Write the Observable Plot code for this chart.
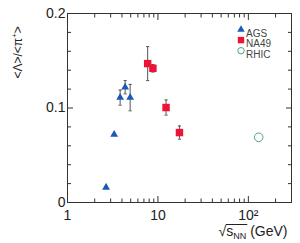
<!DOCTYPE html>
<html><head><meta charset="utf-8">
<script src="https://cdn.jsdelivr.net/npm/d3@7"></script>
<script src="https://cdn.jsdelivr.net/npm/@observablehq/plot@0.6"></script>
<style>body{margin:0;background:#fff} svg{display:block}</style>
</head><body><div id="chart"></div>
<script>
// ---- data ----
const agsX = [2.67, 3.28, 3.82, 4.34, 4.93];
const agsY = [0.016, 0.072, 0.111, 0.122, 0.111];
const agsErr = [0, 0, 0.008, 0.007, 0.014];
const na49X = [7.7, 8.8, 12.3, 17.3];
const na49Y = [0.147, 0.142, 0.1005, 0.074];
const na49Err = [0.018, 0.004, 0.008, 0.007];
const rhicX = [130];
const rhicY = [0.069];
const seriesNames = ["AGS", "NA49", "RHIC"];
const yMajorTicks = [0, 0.1, 0.2];
const yMinorTicks = [0.02, 0.04, 0.06, 0.08, 0.12, 0.14, 0.16, 0.18];
const yTickLabels = ["0", "0.1", "0.2"];
const xMajorTicks = [1, 10, 100];
const xMinorTicks = [2, 3, 4, 5, 6, 7, 8, 9, 20, 30, 40, 50, 60, 70, 80, 90, 200];
const xTickLabels = ["1", "10", "10²"];
const xTitle = "√sNN (GeV)";
const yTitle = "<Λ>/<π+>";

// ---- build tables ----
const ags = agsX.map((x, i) => ({x, y: agsY[i], err: agsErr[i]}));
const na49 = na49X.map((x, i) => ({x, y: na49Y[i], err: na49Err[i]}));
const rhic = rhicX.map((x, i) => ({x, y: rhicY[i]}));
const errs = [...ags, ...na49].filter(d => d.err > 0);
const caps = errs.flatMap(d => [{x: d.x, y: d.y - d.err}, {x: d.x, y: d.y + d.err}]);

const colors = {AGS: "#1a5ab5", NA49: "#ee1237", RHIC: "#4fa57c"};
const ink = "#333";
const capSymbol = {draw(ctx) { ctx.moveTo(-1.6, 0); ctx.lineTo(1.6, 0); }};

const legendMarks = seriesNames.flatMap((name, i) => {
  const dy = 16 + i * 10.6;
  const sym = i === 0 ? {symbol: "triangle", r: 2.8, fill: colors[name]}
            : i === 1 ? {symbol: "square", r: 3.6, fill: colors[name]}
            : {r: 3.2, fill: "none", stroke: colors[name], strokeWidth: 1};
  return [
    Plot.dot([name], {x: null, y: null, frameAnchor: "top-right", dx: -50.5, dy, ...sym}),
    Plot.text([name], {x: null, y: null, text: d => d, frameAnchor: "top-right", dx: -45.5, dy, textAnchor: "start", fontSize: 10, fill: "#444"})
  ];
});

const chart = Plot.plot({
  width: 300,
  height: 243,
  marginLeft: 67,
  marginRight: 9,
  marginTop: 13,
  marginBottom: 41,
  style: {fontFamily: "'Liberation Sans', Arial, sans-serif", background: "#fff", color: ink},
  x: {type: "log", domain: [1, 300]},
  y: {domain: [0, 0.2]},
  marks: [
    // inward ticks, all four sides
    Plot.axisY({ticks: yMajorTicks, anchor: "left", tickSize: -6, fill: "none", label: null}),
    Plot.axisY({ticks: yMinorTicks, anchor: "left", tickSize: -4, fill: "none", label: null}),
    Plot.axisY({ticks: yMajorTicks, anchor: "right", tickSize: -6, fill: "none", label: null}),
    Plot.axisY({ticks: yMinorTicks, anchor: "right", tickSize: -4, fill: "none", label: null}),
    Plot.axisX({ticks: xMajorTicks, anchor: "bottom", tickSize: -6, fill: "none", label: null}),
    Plot.axisX({ticks: xMinorTicks, anchor: "bottom", tickSize: -3.5, fill: "none", label: null}),
    Plot.axisX({ticks: xMajorTicks, anchor: "top", tickSize: -6, fill: "none", label: null}),
    Plot.axisX({ticks: xMinorTicks, anchor: "top", tickSize: -3.5, fill: "none", label: null}),
    // tick labels
    Plot.axisY({ticks: yMajorTicks, anchor: "left", tickSize: 0, tickPadding: 2, fontSize: 14,
      tickFormat: d => yTickLabels[yMajorTicks.indexOf(d)], label: null, fill: "#222"}),
    Plot.axisX({ticks: xMajorTicks, anchor: "bottom", tickSize: 0, tickPadding: 8, fontSize: 14,
      tickFormat: d => xTickLabels[xMajorTicks.indexOf(d)], label: null, fill: "#222"}),
    Plot.frame({stroke: ink, strokeWidth: 1}),
    // error bars
    Plot.ruleX(errs, {x: "x", y1: d => d.y - d.err, y2: d => d.y + d.err, stroke: "#555", strokeWidth: 1}),
    Plot.dot(caps, {x: "x", y: "y", symbol: capSymbol, stroke: "#555", strokeWidth: 1}),
    // data
    Plot.dot(ags, {x: "x", y: "y", symbol: "triangle", r: 2.9, fill: colors.AGS}),
    Plot.dot(na49, {x: "x", y: "y", symbol: "square", r: 4.2, fill: colors.NA49}),
    Plot.dot(rhic, {x: "x", y: "y", r: 4.3, fill: "none", stroke: colors.RHIC, strokeWidth: 1}),
    ...legendMarks,
    // titles
    Plot.text([xTitle], {x: null, y: null, text: d => d, frameAnchor: "bottom-right", dx: -4, dy: 33, textAnchor: "end", fontSize: 14, fill: "#222"}),
    Plot.text([yTitle], {x: null, y: null, text: d => d, frameAnchor: "top-left", dx: -54, dy: 65, rotate: -90, textAnchor: "start", fontSize: 12, fill: "#222"})
  ]
});
document.getElementById("chart").appendChild(chart);

// rich formatting of the titles (radical with subscript, superscript charge)
const ns = "http://www.w3.org/2000/svg";
const addSpan = (t, s, attrs = {}) => { const e = document.createElementNS(ns, "tspan"); e.textContent = s; for (const k in attrs) e.setAttribute(k, attrs[k]); t.appendChild(e); return e; };
for (const t of chart.querySelectorAll("text")) {
  if (t.textContent === xTitle) {
    t.textContent = "";
    addSpan(t, "√");
    addSpan(t, "s");
    addSpan(t, "NN", {"font-size": "9", dy: "3"});
    addSpan(t, " (GeV)", {dy: "-3"});
    // overline of the radical, over "sNN"
    const p = t.getStartPositionOfChar(0);
    const x0 = t.getStartPositionOfChar(1), x1 = t.getEndPositionOfChar(3);
    const m = t.getCTM();
    const a = new DOMPoint(x0.x, p.y - 11).matrixTransform(m);
    const b = new DOMPoint(x1.x + 1, p.y - 11).matrixTransform(m);
    const line = document.createElementNS(ns, "line");
    line.setAttribute("x1", a.x - 0.5); line.setAttribute("y1", a.y);
    line.setAttribute("x2", b.x); line.setAttribute("y2", b.y);
    line.setAttribute("stroke", "#222"); line.setAttribute("stroke-width", "1");
    chart.appendChild(line);
  } else if (t.textContent === yTitle) {
    t.textContent = "";
    addSpan(t, "<Λ>/<π");
    addSpan(t, "+", {"font-size": "8", dy: "-5"});
    addSpan(t, ">", {dy: "5"});
  }
}
</script>
</body></html>
